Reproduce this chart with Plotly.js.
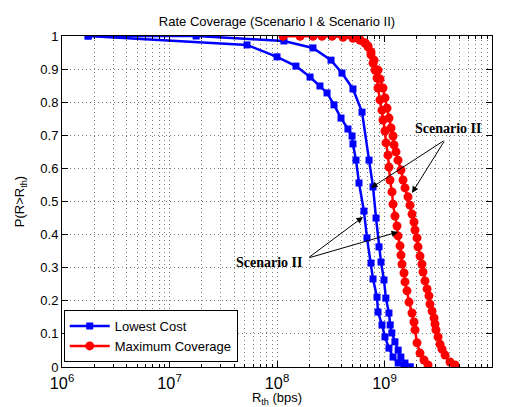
<!DOCTYPE html>
<html><head><meta charset="utf-8">
<script src="https://cdn.plot.ly/plotly-3.0.1.min.js"></script>
<style>html,body{margin:0;padding:0;background:#fff}#chart{width:505px;height:407px}</style>
</head><body><div id="chart"></div>
<script>
// Lowest Cost, inner curve (lower label)
const lowestCostInnerRate = [1.75e6, 5.26e7, 1.0e8, 1.50e8, 2.03e8, 2.51e8, 2.92e8, 3.39e8, 3.94e8, 4.57e8, 4.99e8, 5.09e8, 5.43e8, 5.79e8, 6.44e8, 6.87e8, 7.49e8, 7.82e8, 8.52e8, 8.70e8, 9.48e8, 1.01e9, 1.10e9, 1.20e9, 1.34e9, 1.52e9, 1.73e9];
const lowestCostInnerProb = [1.0, 0.973, 0.937, 0.909, 0.876, 0.849, 0.828, 0.792, 0.752, 0.719, 0.698, 0.674, 0.625, 0.556, 0.471, 0.390, 0.314, 0.266, 0.211, 0.166, 0.127, 0.091, 0.057, 0.030, 0.012, 0.003, 0.0];
// Lowest Cost, outer curve (upper label)
const lowestCostOuterRate = [1.75e6, 1.77e7, 1.16e8, 2.16e8, 3.18e8, 4.02e8, 5.09e8, 6.18e8, 7.18e8, 7.82e8, 8.34e8, 8.89e8, 9.28e8, 9.89e8, 1.03e9, 1.10e9, 1.13e9, 1.17e9, 1.25e9, 1.34e9, 1.42e9, 1.55e9, 1.73e9];
const lowestCostOuterProb = [1.0, 1.0, 0.985, 0.964, 0.927, 0.888, 0.840, 0.770, 0.625, 0.544, 0.450, 0.363, 0.317, 0.263, 0.208, 0.163, 0.127, 0.103, 0.076, 0.051, 0.030, 0.012, 0.0];
// Maximum Coverage, inner curve
const maxCoverageInnerRate = [1.14e8, 1.64e8, 2.16e8, 2.62e8, 3.25e8, 4.11e8, 5.09e8, 5.92e8, 6.59e8, 7.02e8, 7.49e8, 7.82e8, 8.16e8, 8.52e8, 8.70e8, 9.08e8, 9.48e8, 9.68e8, 1.011e9, 1.033e9, 1.078e9, 1.101e9, 1.125e9, 1.174e9, 1.200e9, 1.252e9, 1.307e9, 1.335e9, 1.394e9, 1.424e9, 1.455e9, 1.518e9, 1.551e9, 1.619e9, 1.690e9, 1.803e9, 1.881e9, 1.922e9, 2.006e9, 2.14e9, 2.33e9, 2.54e9];
const maxCoverageInnerProb = [1.0, 1.0, 1.0, 1.0, 1.0, 0.997, 0.994, 0.988, 0.979, 0.967, 0.943, 0.918, 0.897, 0.873, 0.843, 0.807, 0.776, 0.746, 0.713, 0.677, 0.640, 0.604, 0.565, 0.529, 0.492, 0.456, 0.426, 0.396, 0.366, 0.338, 0.311, 0.284, 0.257, 0.230, 0.196, 0.163, 0.136, 0.112, 0.073, 0.042, 0.021, 0.006];
// Maximum Coverage, outer curve
const maxCoverageOuterRate = [1.14e8, 1.64e8, 2.16e8, 2.62e8, 3.25e8, 4.11e8, 5.09e8, 5.92e8, 6.59e8, 7.02e8, 7.49e8, 7.99e8, 8.70e8, 9.08e8, 9.68e8, 1.011e9, 1.055e9, 1.101e9, 1.150e9, 1.200e9, 1.226e9, 1.279e9, 1.335e9, 1.424e9, 1.486e9, 1.551e9, 1.654e9, 1.727e9, 1.803e9, 1.881e9, 1.922e9, 2.006e9, 2.05e9, 2.14e9, 2.23e9, 2.28e9, 2.38e9, 2.49e9, 2.59e9, 2.65e9, 2.77e9, 2.89e9, 2.95e9, 3.01e9, 3.15e9, 3.28e9, 3.43e9, 3.66e9, 4.07e9, 4.53e9];
const maxCoverageOuterProb = [1.0, 1.0, 1.0, 1.0, 1.0, 0.997, 0.994, 0.988, 0.979, 0.970, 0.952, 0.927, 0.897, 0.870, 0.843, 0.813, 0.782, 0.752, 0.722, 0.698, 0.671, 0.650, 0.625, 0.595, 0.565, 0.541, 0.514, 0.489, 0.462, 0.438, 0.414, 0.390, 0.363, 0.335, 0.311, 0.287, 0.260, 0.236, 0.215, 0.190, 0.169, 0.148, 0.130, 0.112, 0.091, 0.069, 0.054, 0.036, 0.015, 0.006];

const seriesNames = ['Lowest Cost', 'Maximum Coverage'];
const yTickVals = [0, 0.1, 0.2, 0.3, 0.4, 0.5, 0.6, 0.7, 0.8, 0.9, 1];
const yTickText = ['0', '0.1', '0.2', '0.3', '0.4', '0.5', '0.6', '0.7', '0.8', '0.9', '1'];
const annotationLabel = 'Scenario II';

const blue = '#0000ff', red = '#ff0000';
const blueLine = {color: blue, width: 2.5};
const redLine = {color: red, width: 2.5};
const sq = {symbol: 'square', size: 7, color: blue};
const ci = {symbol: 'circle', size: 9, color: red};

const traces = [
  {x: lowestCostInnerRate, y: lowestCostInnerProb, mode: 'lines+markers', line: blueLine, marker: sq, name: seriesNames[0], showlegend: true},
  {x: lowestCostOuterRate, y: lowestCostOuterProb, mode: 'lines+markers', line: blueLine, marker: sq, name: seriesNames[0], showlegend: false},
  {x: maxCoverageInnerRate, y: maxCoverageInnerProb, mode: 'lines+markers', line: redLine, marker: ci, name: seriesNames[1], showlegend: true},
  {x: maxCoverageOuterRate, y: maxCoverageOuterProb, mode: 'lines+markers', line: redLine, marker: ci, name: seriesNames[1], showlegend: false}
];

const font = {family: 'Liberation Sans, Arial, sans-serif', size: 13, color: '#000'};
const annFont = {family: 'Liberation Serif, Times New Roman, serif', size: 14, color: '#000'};
const arrowCommon = {xref: 'x', yref: 'y', axref: 'x', ayref: 'y', text: '', showarrow: true, arrowhead: 2, arrowsize: 1.3, arrowwidth: 1, arrowcolor: '#000', standoff: 0};
const gridDash = '1px,3px';
const gridColor = '#7a7a7a';

const layout = {
  width: 505, height: 407,
  margin: {l: 62, r: 13, t: 36, b: 40},
  paper_bgcolor: '#fff', plot_bgcolor: '#fff',
  font: font,
  title: {text: 'Rate Coverage (Scenario I &amp; Scenario II)', font: font, x: 0.5, xref: 'paper', y: 1 - 21/407, yref: 'container', yanchor: 'middle'},
  xaxis: {
    type: 'log', range: [6, 10], dtick: 1, exponentformat: 'power',
    showline: true, linecolor: '#000', linewidth: 1, mirror: 'ticks',
    ticks: 'inside', ticklen: 6, tickcolor: '#000', ticklabelstandoff: 2,
    showgrid: true, gridcolor: gridColor, griddash: gridDash, gridwidth: 1,
    zeroline: false, tickfont: font,
    minor: {dtick: 'D1', ticks: 'inside', ticklen: 3, tickcolor: '#000', showgrid: true, gridcolor: gridColor, griddash: gridDash, gridwidth: 1},
    title: {text: 'R<sub>th</sub> (bps)', font: font, standoff: 6}
  },
  yaxis: {
    range: [0, 1], tickvals: yTickVals, ticktext: yTickText,
    showline: true, linecolor: '#000', linewidth: 1, mirror: 'ticks',
    ticks: 'inside', ticklen: 6, tickcolor: '#000',
    showgrid: true, gridcolor: gridColor, griddash: gridDash, gridwidth: 1,
    zeroline: false, tickfont: font,
    title: {text: 'P(R>R<sub>th</sub>)', font: font, standoff: 12}
  },
  legend: {
    x: 0.004, y: 0.015, xanchor: 'left', yanchor: 'bottom',
    bgcolor: '#fff', bordercolor: '#000', borderwidth: 1,
    font: font, tracegroupgap: 0, itemwidth: 40
  },
  annotations: [
    {xref: 'x', yref: 'y', x: 9.591, y: 0.722, text: '<b>' + annotationLabel + '</b>', showarrow: false, font: annFont},
    {xref: 'x', yref: 'y', x: 7.926, y: 0.317, text: '<b>' + annotationLabel + '</b>', showarrow: false, font: annFont},
    Object.assign({x: 8.874, y: 0.541, ax: 9.563, ay: 0.686}, arrowCommon),
    Object.assign({x: 9.256, y: 0.526, ax: 9.563, ay: 0.686}, arrowCommon),
    Object.assign({x: 8.800, y: 0.453, ax: 8.288, ay: 0.329}, arrowCommon),
    Object.assign({x: 9.126, y: 0.408, ax: 8.288, ay: 0.329}, arrowCommon)
  ]
};

Plotly.newPlot('chart', traces, layout, {displayModeBar: false, staticPlot: true});
</script>
</body></html>
